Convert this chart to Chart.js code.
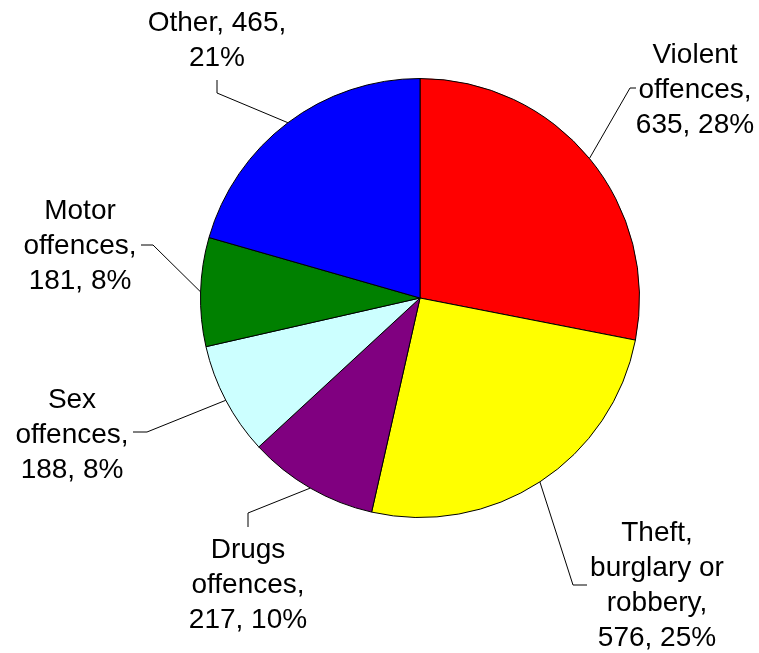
<!DOCTYPE html>
<html>
<head>
<meta charset="utf-8">
<script src="https://cdn.jsdelivr.net/npm/chart.js@4"></script>
<style>
html,body{margin:0;padding:0;background:#fff;}
#wrap{width:759px;height:653px;position:relative;}
</style>
</head>
<body>
<div id="wrap"><canvas id="c" width="759" height="653"></canvas></div>
<script>
const categories = ["Violent offences", "Theft, burglary or robbery", "Drugs offences", "Sex offences", "Motor offences", "Other"];
const values = [635, 576, 217, 188, 181, 465];
const percents = ["28%", "25%", "10%", "8%", "8%", "21%"];
const labelLines = [
  ["Violent", "offences,", "635, 28%"],
  ["Theft,", "burglary or", "robbery,", "576, 25%"],
  ["Drugs", "offences,", "217, 10%"],
  ["Sex", "offences,", "188, 8%"],
  ["Motor", "offences,", "181, 8%"],
  ["Other, 465,", "21%"]
];
const colors = ["#FF0000", "#FFFF00", "#800080", "#CCFFFF", "#008000", "#0000FF"];

// label layout relative to pie centre: elbow, end of leader, text centre
const layout = [
  {elbow:[210,-210], end:[216,-210], text:[275,-208]},
  {elbow:[153,287], end:[167,287], text:[237,288]},
  {elbow:[-172,215], end:[-172,229], text:[-172,287]},
  {elbow:[-273,134], end:[-287,134], text:[-348,137]},
  {elbow:[-267,-53], end:[-279,-53], text:[-340,-52]},
  {elbow:[-203,-205], end:[-203,-218], text:[-203,-257]}
];

const labelPlugin = {
  id: 'labels',
  afterDatasetsDraw(chart) {
    const ctx = chart.ctx;
    const meta = chart.getDatasetMeta(0);
    ctx.save();
    ctx.strokeStyle = '#000';
    ctx.lineWidth = 1;
    ctx.fillStyle = '#000';
    ctx.font = '28px "Liberation Sans", Arial, sans-serif';
    ctx.textAlign = 'center';
    ctx.textBaseline = 'middle';
    const lh = 35;
    meta.data.forEach((arc, i) => {
      const p = arc.getProps(['x','y','startAngle','endAngle','outerRadius'], true);
      const mid = (p.startAngle + p.endAngle) / 2;
      const sx = p.x + Math.cos(mid) * p.outerRadius;
      const sy = p.y + Math.sin(mid) * p.outerRadius;
      const L = layout[i];
      ctx.beginPath();
      ctx.moveTo(sx, sy);
      ctx.lineTo(p.x + L.elbow[0], p.y + L.elbow[1]);
      ctx.lineTo(p.x + L.end[0], p.y + L.end[1]);
      ctx.stroke();
      const lines = labelLines[i];
      const cx = p.x + L.text[0];
      const cy = p.y + L.text[1];
      const top = cy - (lines.length - 1) * lh / 2;
      lines.forEach((t, k) => ctx.fillText(t, cx, top + k * lh));
    });
    ctx.restore();
  }
};

new Chart(document.getElementById('c'), {
  type: 'pie',
  data: {
    labels: categories,
    datasets: [{
      data: values,
      backgroundColor: colors,
      borderColor: '#000',
      borderWidth: 1
    }]
  },
  options: {
    responsive: false,
    animation: false,
    layout: { padding: { left: 200, right: 119, top: 78, bottom: 135 } },
    plugins: { legend: { display: false }, tooltip: { enabled: false }, title: { display: false } }
  },
  plugins: [labelPlugin]
});
</script>
</body>
</html>
